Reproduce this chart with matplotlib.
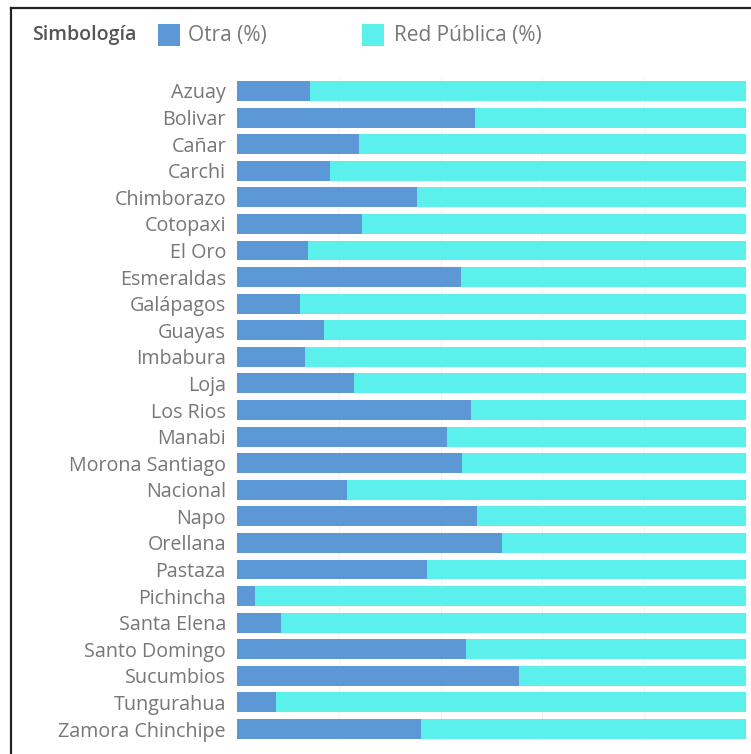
import matplotlib
matplotlib.use("Agg")
import matplotlib.pyplot as plt
from matplotlib.patches import Rectangle
from matplotlib.lines import Line2D

provincias = ["Azuay", "Bolivar", "Cañar", "Carchi", "Chimborazo", "Cotopaxi",
              "El Oro", "Esmeraldas", "Galápagos", "Guayas", "Imbabura", "Loja",
              "Los Rios", "Manabi", "Morona Santiago", "Nacional", "Napo",
              "Orellana", "Pastaza", "Pichincha", "Santa Elena", "Santo Domingo",
              "Sucumbios", "Tungurahua", "Zamora Chinchipe"]
otra = [14.3, 46.8, 24.0, 18.3, 35.4, 24.6, 14.0, 44.0, 12.4, 17.0, 13.3, 23.0,
        46.0, 41.3, 44.3, 21.7, 47.1, 52.1, 37.3, 3.6, 8.6, 45.0, 55.4, 7.7, 36.1]
red_publica = [100 - v for v in otra]

c_otra = "#5c98d6"
c_red = "#5cf0ec"
W, H = 751, 754

plt.rcParams['font.family'] = ['Open Sans', 'DejaVu Sans']
fig = plt.figure(figsize=(W / 100, H / 100), dpi=100)

def fx(px):
    return px / W

def fy(py):
    return 1 - py / H

ax = fig.add_axes([fx(237), fy(742.3), fx(746) - fx(237), fy(77.7) - fy(742.3)])
y = list(range(len(provincias)))
ax.barh(y, otra, height=0.75, color=c_otra, linewidth=0)
ax.barh(y, red_publica, left=otra, height=0.75, color=c_red, linewidth=0)
ax.set_xlim(0, 100)
ax.set_ylim(len(provincias) - 0.5, -0.5)
ax.set_yticks(y)
ax.set_yticklabels(provincias, fontsize=14.2, color="#777777")
ax.tick_params(axis="y", length=0, pad=8)
ax.set_xticks([20, 40, 60, 80])
ax.tick_params(axis="x", length=0, labelbottom=False)
ax.grid(axis="x", color="#f2f2f2", linewidth=0.8)
ax.set_axisbelow(True)
for s in ax.spines.values():
    s.set_visible(False)

# frame
fig.add_artist(Line2D([fx(11), fx(11)], [fy(8), 0], color="#222222", linewidth=1.6))
fig.add_artist(Line2D([fx(11), 1], [fy(8), fy(8)], color="#222222", linewidth=1.6))

# legend
fig.text(fx(32), fy(35), "Simbología", fontsize=14, color="#555555",
         fontweight="semibold", va="center", ha="left")
fig.add_artist(Rectangle((fx(158), fy(46)), fx(22), fy(24) - fy(46),
                         transform=fig.transFigure, color=c_otra, linewidth=0))
fig.text(fx(188), fy(35), "Otra (%)", fontsize=15, color="#777777",
         va="center", ha="left")
fig.add_artist(Rectangle((fx(362), fy(46)), fx(22), fy(24) - fy(46),
                         transform=fig.transFigure, color=c_red, linewidth=0))
fig.text(fx(394), fy(35), "Red Pública (%)", fontsize=15, color="#777777",
         va="center", ha="left")

fig.savefig("out.png", dpi=100)
